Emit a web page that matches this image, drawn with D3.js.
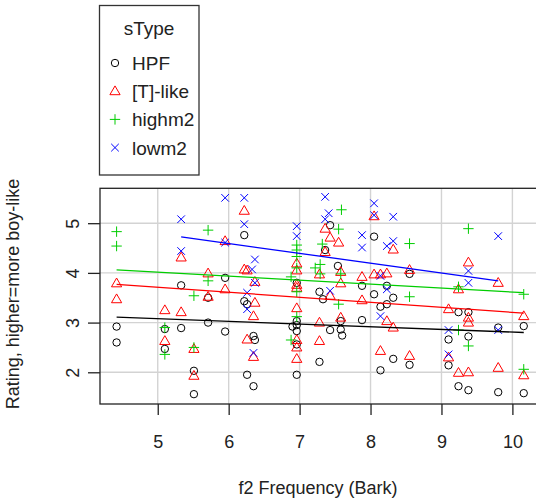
<!DOCTYPE html>
<html>
<head>
<meta charset="utf-8">
<script src="https://cdn.jsdelivr.net/npm/d3@7"></script>
<style>
  body { margin: 0; background: #fff; }
  svg { display: block; font-family: "Liberation Sans", Arial, sans-serif; }
</style>
</head>
<body>
<svg id="chart" width="536" height="500"></svg>
<script>
'use strict';

// [f2 (Bark), rating]
var hpf = [
  [4.42, 2.92], [4.42, 2.60], [5.10, 2.87], [5.10, 2.47], [5.33, 3.75], [5.33, 2.89],
  [5.51, 2.03], [5.51, 1.56], [5.71, 3.50], [5.71, 3.00], [5.95, 3.90], [5.95, 2.82],
  [6.22, 4.76], [6.22, 3.43], [6.26, 3.37], [6.26, 1.95], [6.35, 2.73], [6.35, 1.72],
  [6.37, 2.65], [6.96, 3.80], [6.96, 3.03], [6.96, 2.95], [6.96, 2.83], [6.96, 2.56],
  [6.96, 1.95], [6.90, 2.92], [7.43, 4.96], [7.36, 4.46], [7.54, 4.14], [7.28, 3.62],
  [7.28, 2.21], [7.33, 3.47], [7.43, 2.85], [7.58, 3.03], [7.58, 2.86], [7.60, 2.74],
  [7.88, 3.74], [7.88, 3.05], [8.05, 4.73], [8.05, 3.57], [8.23, 3.74], [8.23, 3.37],
  [8.32, 3.50], [8.32, 2.27], [8.14, 3.32], [8.14, 2.04], [8.55, 3.98], [8.55, 2.15],
  [9.24, 3.21], [9.24, 1.72], [9.38, 3.21], [9.38, 2.72], [9.38, 1.64], [9.10, 2.66],
  [9.10, 2.14], [9.80, 2.90], [9.80, 1.60], [10.16, 2.93], [10.16, 1.58]
];
var tLike = [
  [4.42, 3.79], [4.42, 3.47], [5.10, 3.25], [5.10, 2.63], [5.33, 4.31], [5.33, 3.21],
  [5.51, 2.47], [5.51, 1.93], [5.71, 3.99], [5.71, 3.52], [5.95, 4.64], [5.95, 3.67],
  [6.22, 5.25], [6.22, 4.07], [6.26, 4.05], [6.26, 2.66], [6.37, 3.82], [6.37, 3.40],
  [6.35, 3.13], [6.35, 2.31], [6.96, 4.19], [6.96, 4.05], [6.96, 3.76], [6.96, 3.70],
  [6.96, 3.29], [6.96, 2.65], [6.96, 2.50], [6.96, 2.27], [7.36, 4.89], [7.36, 4.42],
  [7.43, 4.71], [7.43, 3.54], [7.55, 4.61], [7.28, 3.97], [7.28, 3.00], [7.28, 2.63],
  [7.58, 4.02], [7.58, 3.79], [7.58, 3.10], [7.88, 3.92], [7.88, 3.45], [8.05, 5.14],
  [8.05, 3.97], [8.14, 3.97], [8.14, 2.43], [8.23, 3.99], [8.23, 3.03], [8.32, 4.47],
  [8.32, 2.90], [8.55, 4.06], [8.55, 2.33], [9.10, 3.27], [9.10, 2.30], [9.24, 3.67],
  [9.24, 1.99], [9.38, 4.21], [9.38, 3.10], [9.38, 3.00], [9.38, 2.00], [9.80, 3.80],
  [9.80, 2.09], [10.16, 3.13], [10.16, 1.94]
];
var highm2 = [
  [4.42, 4.83], [4.42, 4.54], [5.10, 2.90], [5.10, 2.36], [5.51, 3.54], [5.51, 2.50],
  [5.71, 4.86], [5.71, 3.84], [6.96, 4.56], [6.96, 4.46], [6.96, 4.33], [6.96, 4.10],
  [6.96, 3.62], [6.96, 3.12], [6.88, 3.92], [6.88, 2.65], [7.22, 4.10], [7.59, 5.27],
  [7.55, 4.88], [7.32, 4.58], [7.29, 4.17], [7.29, 3.98], [7.58, 3.98], [7.55, 3.37],
  [8.55, 4.59], [8.55, 3.52], [9.38, 4.89], [9.38, 2.53], [9.24, 3.72], [9.24, 2.85],
  [10.16, 3.57], [10.16, 2.06]
];
var lowm2 = [
  [5.33, 5.08], [5.33, 4.44], [5.95, 5.51], [5.95, 4.61], [6.22, 5.51], [6.22, 4.98],
  [6.37, 4.27], [6.37, 3.80], [6.33, 4.07], [6.26, 3.60], [6.26, 3.27], [6.35, 2.39],
  [6.96, 4.94], [6.96, 4.74], [7.36, 5.53], [7.36, 5.08], [7.41, 5.20], [7.43, 3.64],
  [7.88, 4.76], [7.88, 4.51], [8.05, 5.40], [8.05, 5.16], [8.32, 5.13], [8.32, 4.64],
  [8.23, 4.54], [8.23, 3.67], [8.14, 3.94], [8.14, 3.13], [9.10, 2.85], [9.10, 2.36],
  [9.38, 4.04], [9.38, 3.80], [9.80, 4.74], [9.80, 2.85]
];

// per-group linear fits [intercept, slope]
var fits = [[3.349, -0.054], [4.216, -0.101], [4.414, -0.080], [5.779, -0.198]];

var groupNames = ['HPF', '[T]-like', 'highm2', 'lowm2'];
var xTicks = [5, 6, 7, 8, 9, 10];
var yTicks = [2, 3, 4, 5];

var colors = ['#000000', '#ff0000', '#00cd00', '#0000ff'];
var groups = [hpf, tLike, highm2, lowm2];

var svg = d3.select('#chart');
var x = d3.scaleLinear().domain([4.186, 10.22]).range([100, 528]);
var y = d3.scaleLinear().domain([1.362, 5.702]).range([404, 188.3]);

// plot shapes, R pch 1, 2, 3, 4
var shapes = [
  function(g) { g.append('circle').attr('r', 3.7); },
  function(g) { g.append('path').attr('d', 'M0,-5.3L5.1,3.5L-5.1,3.5Z'); },
  function(g) { g.append('path').attr('d', 'M-5.2,0H5.2M0,-5.2V5.2'); },
  function(g) { g.append('path').attr('d', 'M-3.8,-3.8L3.8,3.8M-3.8,3.8L3.8,-3.8'); }
];

// grid
var grid = svg.append('g').attr('stroke', '#d3d3d3').attr('stroke-width', 1.4);
grid.selectAll('line.v').data(xTicks).enter().append('line')
  .attr('x1', x).attr('x2', x).attr('y1', 188.3).attr('y2', 404);
grid.selectAll('line.h').data(yTicks).enter().append('line')
  .attr('x1', 100).attr('x2', 540).attr('y1', y).attr('y2', y);

// points
groups.forEach(function(data, i) {
  svg.append('g')
    .attr('fill', 'none').attr('stroke', colors[i]).attr('stroke-width', 1)
    .selectAll('g').data(data).enter().append('g')
    .attr('transform', function(d) { return 'translate(' + x(d[0]) + ',' + y(d[1]) + ')'; })
    .each(function() { shapes[i](d3.select(this)); });
});

// fit lines across each group's x range
groups.forEach(function(data, i) {
  var ext = d3.extent(data, function(d) { return d[0]; });
  var f = fits[i];
  svg.append('path')
    .attr('fill', 'none').attr('stroke', colors[i]).attr('stroke-width', 1.3)
    .attr('d', d3.line()(ext.map(function(v) { return [x(v), y(f[0] + f[1] * v)]; })));
});

// box
svg.append('rect').attr('x', 100).attr('y', 188.3).attr('width', 440).attr('height', 215.7)
  .attr('fill', 'none').attr('stroke', '#222').attr('stroke-width', 1.3);

// axes
var fmt = d3.format('d');
var xAxis = svg.append('g').attr('transform', 'translate(0,404)')
  .call(d3.axisBottom(x).tickValues(xTicks).tickFormat(fmt).tickSize(11).tickPadding(20).tickSizeOuter(0));
var yAxis = svg.append('g').attr('transform', 'translate(100,0)')
  .call(d3.axisLeft(y).tickValues(yTicks).tickFormat(fmt).tickSize(12).tickSizeOuter(0));
[xAxis, yAxis].forEach(function(a) {
  a.select('.domain').remove();
  a.selectAll('line').attr('stroke', '#222').attr('stroke-width', 1.3);
  a.selectAll('text').attr('fill', '#222').attr('font-size', 18).attr('font-family', null);
});
yAxis.selectAll('text')
  .attr('x', null).attr('dy', null)
  .attr('text-anchor', 'middle')
  .attr('transform', 'translate(-27,0) rotate(-90)')
  .attr('dy', '0.35em');

svg.append('text').attr('x', 318).attr('y', 494).attr('text-anchor', 'middle')
  .attr('font-size', 18).attr('fill', '#222').text('f2 Frequency (Bark)');
svg.append('text').attr('transform', 'translate(19,294) rotate(-90)').attr('text-anchor', 'middle')
  .attr('font-size', 18).attr('fill', '#222').text('Rating, higher=more boy-like');

// legend
var legend = svg.append('g');
legend.append('rect').attr('x', 99.5).attr('y', 5.5).attr('width', 99.5).attr('height', 169.5)
  .attr('fill', '#fff').attr('stroke', '#333').attr('stroke-width', 1.3);
legend.append('text').attr('x', 149).attr('y', 35).attr('text-anchor', 'middle')
  .attr('font-size', 19).attr('fill', '#222').text('sType');
groupNames.forEach(function(name, i) {
  var ly = 63 + i * 28.2;
  var s = legend.append('g').attr('transform', 'translate(115,' + ly + ')')
    .attr('fill', 'none').attr('stroke', colors[i]).attr('stroke-width', 1);
  shapes[i](s);
  legend.append('text').attr('x', 132).attr('y', ly + 7).attr('font-size', 19)
    .attr('fill', '#222').text(name);
});
</script>
</body>
</html>
